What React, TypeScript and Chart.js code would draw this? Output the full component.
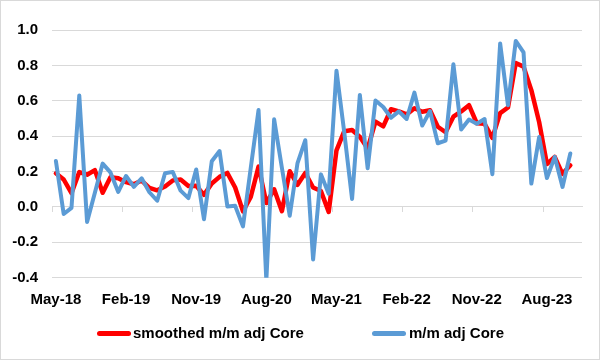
import React, { useEffect, useRef } from "react";
import { Chart, registerables } from "chart.js";

Chart.register(...registerables);

const months = [
  "May-18", "Jun-18", "Jul-18", "Aug-18", "Sep-18", "Oct-18", "Nov-18", "Dec-18",
  "Jan-19", "Feb-19", "Mar-19", "Apr-19", "May-19", "Jun-19", "Jul-19", "Aug-19", "Sep-19", "Oct-19", "Nov-19", "Dec-19",
  "Jan-20", "Feb-20", "Mar-20", "Apr-20", "May-20", "Jun-20", "Jul-20", "Aug-20", "Sep-20", "Oct-20", "Nov-20", "Dec-20",
  "Jan-21", "Feb-21", "Mar-21", "Apr-21", "May-21", "Jun-21", "Jul-21", "Aug-21", "Sep-21", "Oct-21", "Nov-21", "Dec-21",
  "Jan-22", "Feb-22", "Mar-22", "Apr-22", "May-22", "Jun-22", "Jul-22", "Aug-22", "Sep-22", "Oct-22", "Nov-22", "Dec-22",
  "Jan-23", "Feb-23", "Mar-23", "Apr-23", "May-23", "Jun-23", "Jul-23", "Aug-23", "Sep-23", "Oct-23", "Nov-23", "Dec-23",
];

const shownLabels = ["May-18", "Feb-19", "Nov-19", "Aug-20", "May-21", "Feb-22", "Nov-22", "Aug-23"];

const smoothedCore = [
  0.19, 0.155, 0.078, 0.197, 0.182, 0.208, 0.08, 0.168, 0.162, 0.14,
  0.128, 0.149, 0.108, 0.094, 0.115, 0.15, 0.155, 0.118, 0.12, 0.068,
  0.132, 0.17, 0.192, 0.11, -0.025, 0.056, 0.228, 0.022, 0.1, -0.024,
  0.202, 0.125, 0.192, 0.11, 0.09, -0.028, 0.32, 0.428, 0.435, 0.396,
  0.33, 0.482, 0.455, 0.552, 0.54, 0.523, 0.558, 0.538, 0.546, 0.453,
  0.422, 0.51, 0.54, 0.575, 0.473, 0.47, 0.39, 0.53, 0.562, 0.814,
  0.793, 0.66, 0.48, 0.242, 0.283, 0.187, 0.235,
];

const mmCore = [
  0.26, -0.04, -0.005, 0.63, -0.085, 0.08, 0.245, 0.195, 0.085, 0.175,
  0.113, 0.162, 0.083, 0.035, 0.19, 0.198, 0.092, 0.05, 0.212, -0.07,
  0.258, 0.316, 0.003, 0.006, -0.11, 0.22, 0.548, -0.415, 0.495, 0.22,
  -0.05, 0.248, 0.377, -0.297, 0.184, 0.075, 0.77, 0.42, 0.045, 0.633,
  0.218, 0.602, 0.565, 0.504, 0.54, 0.497, 0.646, 0.46, 0.542, 0.36,
  0.375, 0.806, 0.438, 0.494, 0.47, 0.497, 0.185, 0.924, 0.575, 0.938,
  0.873, 0.132, 0.395, 0.163, 0.283, 0.113, 0.302,
];

const seriesNames = ["smoothed m/m adj Core", "m/m adj Core"];
const seriesColors = ["#ff0000", "#5b9bd5"];

const FONT = "'Liberation Sans', Arial, sans-serif";
const GRID = "#d9d9d9";

export default function App() {
  const canvasRef = useRef<HTMLCanvasElement | null>(null);

  useEffect(() => {
    const canvas = canvasRef.current;
    if (!canvas) return;
    const chart = new Chart(canvas, {
      type: "line",
      data: {
        labels: months,
        datasets: [
          {
            label: seriesNames[0],
            data: smoothedCore,
            borderColor: seriesColors[0],
            backgroundColor: seriesColors[0],
            borderWidth: 4.5,
            pointRadius: 0,
            tension: 0,
            borderJoinStyle: "round",
            borderCapStyle: "round",
            order: 1,
            xAxisID: "x",
          },
          {
            label: seriesNames[1],
            data: mmCore,
            borderColor: seriesColors[1],
            backgroundColor: seriesColors[1],
            borderWidth: 4,
            pointRadius: 0,
            tension: 0,
            borderJoinStyle: "round",
            borderCapStyle: "round",
            order: 0,
            xAxisID: "x",
          },
        ],
      },
      options: {
        animation: false,
        responsive: false,
        maintainAspectRatio: false,
        events: [],
        layout: { padding: { top: 30, right: 18, bottom: 50, left: 0 } },
        plugins: {
          legend: { display: false },
          tooltip: { enabled: false },
        },
        scales: {
          x: {
            type: "category",
            position: "bottom",
            offset: true,
            grid: { display: false, drawTicks: false },
            border: { display: false },
            ticks: {
              autoSkip: false,
              maxRotation: 0,
              minRotation: 0,
              padding: 13,
              color: "#000",
              font: { family: FONT, size: 15, weight: "bold" },
              callback: (_v: any, i: number) =>
                shownLabels.includes(months[i]) ? months[i] : "",
            },
            afterFit: (s: any) => {
              s.height = 32.3;
            },
          },
          x2: {
            type: "category",
            axis: "x",
            labels: months,
            position: { y: 0 },
            offset: true,
            grid: {
              offset: true,
              drawOnChartArea: false,
              drawTicks: true,
              tickLength: 5,
              color: (c: any) => (c.index % 9 === 0 && c.index < months.length ? GRID : "rgba(0,0,0,0)"),
            },
            border: { display: true, color: GRID, width: 1 },
            ticks: { display: false, autoSkip: false },
          },
          y: {
            min: -0.4,
            max: 1.0,
            grid: { color: GRID, drawTicks: false, lineWidth: 1 },
            border: { display: false },
            ticks: {
              stepSize: 0.2,
              padding: 14,
              color: "#000",
              font: { family: FONT, size: 15, weight: "bold" },
              callback: (v: any) => {
                const n = Number(v);
                return Math.abs(n) < 1e-9 ? "0.0" : n.toFixed(1);
              },
            },
            afterFit: (s: any) => {
              s.width = 52;
            },
          },
        },
      } as any,
    });
    return () => chart.destroy();
  }, []);

  const legendText: React.CSSProperties = {
    position: "absolute",
    top: 324,
    fontFamily: FONT,
    fontWeight: "bold",
    fontSize: 15,
    lineHeight: "18px",
    color: "#000",
    whiteSpace: "nowrap",
  };
  const legendLine = (left: number, color: string): React.CSSProperties => ({
    position: "absolute",
    left,
    top: 331,
    width: 34,
    height: 5,
    borderRadius: 2.5,
    background: color,
  });

  return (
    <div style={{ position: "absolute", left: 0, top: 0, width: 600, height: 360, background: "#fff" }}>
      <canvas ref={canvasRef} width={600} height={360} style={{ display: "block", width: 600, height: 360 }} />
      <div style={legendLine(97, seriesColors[0])} />
      <span style={{ ...legendText, left: 133 }}>{seriesNames[0]}</span>
      <div style={legendLine(372, seriesColors[1])} />
      <span style={{ ...legendText, left: 409 }}>{seriesNames[1]}</span>
      <div
        style={{
          position: "absolute",
          inset: 0,
          border: "1px solid " + GRID,
          boxSizing: "border-box",
          pointerEvents: "none",
        }}
      />
    </div>
  );
}
